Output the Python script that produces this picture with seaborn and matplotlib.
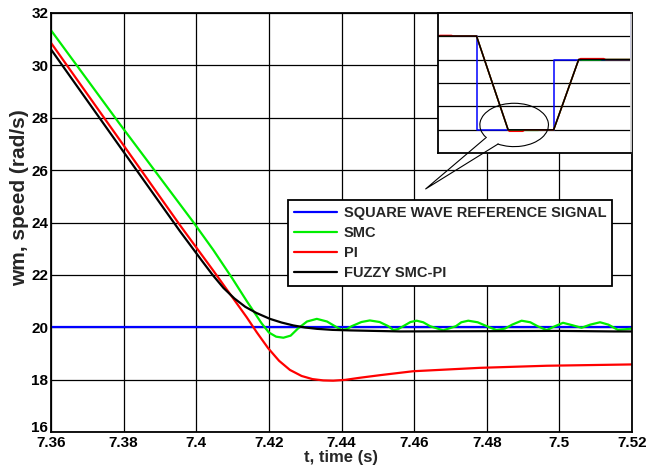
import numpy as np
import pandas as pd
import seaborn as sns
import matplotlib
matplotlib.use("Agg")
import matplotlib.pyplot as plt
from matplotlib.patches import Arc
from matplotlib.lines import Line2D
from matplotlib.transforms import ScaledTranslation

# ---------------- data ----------------
ref_t = [7.36, 7.52]
ref_v = [20.0, 20.0]

smc_t = [7.360, 7.379, 7.399, 7.4047, 7.4100, 7.4139, 7.418, 7.420, 7.422, 7.424, 7.426,
         7.428, 7.4305, 7.4332, 7.436, 7.4382, 7.440, 7.4415, 7.4428, 7.4455, 7.4478,
         7.4505, 7.4529, 7.4543, 7.4556, 7.457, 7.459, 7.4607, 7.4625, 7.4644, 7.468,
         7.4715, 7.473, 7.4749, 7.4775, 7.480, 7.4827, 7.485, 7.487, 7.4896, 7.492,
         7.494, 7.4965, 7.4988, 7.501, 7.5035, 7.5061, 7.5085, 7.5112, 7.5135, 7.5161,
         7.518, 7.520]
smc_v = [31.34, 27.75, 24.05, 22.95, 21.85, 21.00, 20.15, 19.80, 19.64, 19.60, 19.68,
         19.95, 20.22, 20.32, 20.22, 20.04, 19.90, 19.93, 20.04, 20.20, 20.26,
         20.20, 20.04, 19.89, 19.93, 20.04, 20.20, 20.25, 20.19, 20.04, 19.88,
         20.04, 20.19, 20.25, 20.19, 20.04, 19.89, 19.95, 20.10, 20.25, 20.19,
         20.04, 19.89, 20.04, 20.17, 20.08, 19.98, 20.10, 20.19, 20.10, 19.90,
         19.92, 19.95]

pi_t = [7.360, 7.379, 7.3955, 7.4047, 7.4139, 7.4167, 7.4198, 7.4228, 7.4258,
        7.429, 7.432, 7.435, 7.4377, 7.441, 7.4450, 7.4506, 7.4597, 7.4781,
        7.4965, 7.520]
pi_v = [30.86, 27.14, 23.90, 22.16, 20.38, 19.80, 19.20, 18.72, 18.37,
        18.14, 18.02, 17.97, 17.96, 17.99, 18.07, 18.17, 18.32, 18.45,
        18.53, 18.58]

fz_t = [7.360, 7.379, 7.3955, 7.4015, 7.4045, 7.4075, 7.4105, 7.4135, 7.4165,
        7.4203, 7.4235, 7.4267, 7.430, 7.4332, 7.4375, 7.4423, 7.4561, 7.480,
        7.500, 7.515, 7.520]
fz_v = [30.61, 26.89, 23.67, 22.55, 22.00, 21.50, 21.10, 20.78, 20.55,
        20.32, 20.18, 20.07, 19.99, 19.94, 19.90, 19.88, 19.84, 19.85,
        19.86, 19.84, 19.84]

x_ticks = [7.36, 7.38, 7.40, 7.42, 7.44, 7.46, 7.48, 7.50, 7.52]
x_tick_labels = ["7.36", "7.38", "7.4", "7.42", "7.44", "7.46", "7.48", "7.5", "7.52"]
y_ticks = [16, 18, 20, 22, 24, 26, 28, 30, 32]

series_names = ["SQUARE WAVE REFERENCE SIGNAL", "SMC", "PI", "FUZZY SMC-PI"]
series_colors = ["#0000ff", "#00ee00", "#ff0000", "#000000"]

# inset (zoomed square-wave view)
in_ref_t = [0, 1, 1, 3, 3, 5, 5]
in_ref_v = [5, 5, 1, 1, 4, 4, 6]
in_smc_t = [0, 1, 1.82, 1.9, 2.6, 2.65, 3, 3.65, 3.75, 4.2, 4.25, 5]
in_smc_v = [5, 5, 1, 0.98, 0.98, 1, 1, 4, 3.98, 3.98, 4, 4]
in_pi_t = [0, 0.05, 0.35, 0.4, 1, 1.82, 1.85, 2.2, 2.25, 3, 3.65, 3.7, 4.3, 4.35, 5]
in_pi_v = [5, 5.03, 5.03, 5, 5, 1, 0.94, 0.94, 1, 1, 4, 4.04, 4.04, 4, 4]
in_fz_t = [0, 1, 1.82, 3, 3.65, 5]
in_fz_v = [5, 5, 1, 1, 4, 4]

# ---------------- styling ----------------
sns.set_style("white")
plt.rcParams['font.family'] = ['Liberation Sans', 'DejaVu Sans']
plt.rcParams['font.weight'] = 'bold'

fig = plt.figure(figsize=(6.51, 4.72), dpi=100)
ax = fig.add_axes([51 / 651, 1 - 432 / 472, 581 / 651, 419 / 472])

main_sets = [(ref_t, ref_v), (smc_t, smc_v), (pi_t, pi_v), (fz_t, fz_v)]
for (tt, vv), name, col in zip(main_sets, series_names, series_colors):
    df = pd.DataFrame({"t": tt, "v": vv})
    sns.lineplot(data=df, x="t", y="v", ax=ax, color=col, lw=1.6,
                 estimator=None, sort=False)

ax.set_xlim(7.36, 7.52)
ax.set_ylim(16, 32)
ax.set_xticks(x_ticks)
ax.set_xticklabels(x_tick_labels)
ax.set_yticks(y_ticks)
ax.grid(True, color="black", lw=0.9)
ax.set_axisbelow(True)
for s in ax.spines.values():
    s.set_color("black")
    s.set_linewidth(1.3)
ax.tick_params(axis="both", direction="in", length=3, width=0.8,
               labelsize=11, colors="black")
ax.tick_params(axis="x", pad=3)
ax.tick_params(axis="y", pad=2)
for lab in ax.get_xticklabels() + ax.get_yticklabels():
    lab.set_fontweight("bold")
# lift the lowest y tick label slightly so it clears "7.36"
low_lab = ax.get_yticklabels()[0]
low_lab.set_transform(low_lab.get_transform() +
                      ScaledTranslation(0, 5 / 100, fig.dpi_scale_trans))
ax.set_xlabel("t, time (s)", fontsize=12, fontweight="bold", labelpad=0)
ax.set_ylabel("wm, speed (rad/s)", fontsize=15, fontweight="bold")
ax.yaxis.set_label_coords(-0.037, 0.56)

handles = [Line2D([0], [0], color=c, lw=1.6) for c in series_colors]
leg = ax.legend(handles, series_names, loc="upper right",
                bbox_to_anchor=(0.9656, 0.553), borderaxespad=0,
                prop={"size": 10.5, "weight": "bold"}, handlelength=3.0,
                handletextpad=0.45, labelspacing=0.42, borderpad=0.38,
                fancybox=False, framealpha=1, edgecolor="black")
leg.get_frame().set_linewidth(1.3)

# ---------------- inset ----------------
axi = fig.add_axes([438 / 651, 1 - 153.3 / 472, 192.7 / 651, 140.6 / 472])
axi.set_facecolor("white")
inset_sets = [(in_ref_t, in_ref_v), (in_smc_t, in_smc_v), (in_pi_t, in_pi_v), (in_fz_t, in_fz_v)]
for (tt, vv), col in zip(inset_sets, series_colors):
    df = pd.DataFrame({"t": tt, "v": vv})
    sns.lineplot(data=df, x="t", y="v", ax=axi, color=col, lw=1.1,
                 estimator=None, sort=False)
axi.set_xlim(0, 5)
axi.set_ylim(0, 6)
axi.set_xticks([1, 2, 3, 4])
axi.set_yticks([1, 2, 3, 4, 5])
axi.set_xticklabels([])
axi.set_yticklabels([])
axi.set_xlabel("")
axi.set_ylabel("")
axi.grid(False)
axi.yaxis.grid(True, color="black", lw=0.9)
axi.set_axisbelow(True)
axi.tick_params(axis="x", direction="in", length=3, width=0.6, colors="black")
axi.tick_params(axis="y", length=0)
for k, s in axi.spines.items():
    s.set_color("black" if k != "right" else "#d8d8d8")
    s.set_linewidth(1.3)

# callout bubble
arc = Arc((1.976, 1.21), 1.78, 1.85, theta1=242, theta2=575, color="black",
          lw=0.8, clip_on=False, zorder=5)
axi.add_patch(arc)
axi.plot([1.256, -0.32, 1.56], [0.683, -1.52, 0.398], color="black", lw=0.8,
         clip_on=False, zorder=5)

fig.savefig("out.png", dpi=100)
